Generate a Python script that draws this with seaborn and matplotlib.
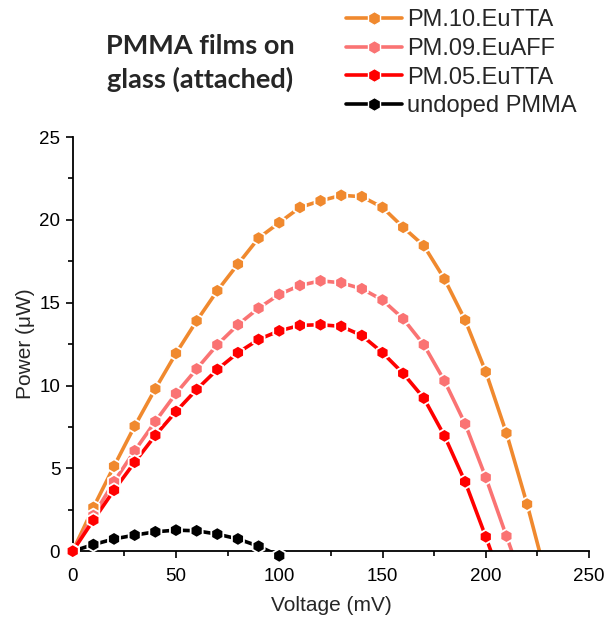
import numpy as np
import pandas as pd
import seaborn as sns
import matplotlib.pyplot as plt
from matplotlib.lines import Line2D
from matplotlib.ticker import MultipleLocator

# Power vs voltage curves (values in uW), one point every 10 mV
pm10_voltage = list(range(0, 240, 10))
pm10_power = [0, 2.64, 5.13, 7.55, 9.80, 11.94, 13.90, 15.72, 17.33, 18.90,
              19.83, 20.75, 21.15, 21.48, 21.40, 20.75, 19.55, 18.44, 16.43, 13.95,
              10.83, 7.13, 2.84, -1.90]

pm09_voltage = list(range(0, 230, 10))
pm09_power = [0, 2.15, 4.19, 6.06, 7.83, 9.52, 11.00, 12.46, 13.67, 14.67,
              15.50, 16.04, 16.32, 16.20, 15.84, 15.16, 14.03, 12.46, 10.28, 7.69,
              4.45, 0.91, -2.60]

pm05_voltage = list(range(0, 220, 10))
pm05_power = [0, 1.87, 3.68, 5.37, 6.99, 8.43, 9.76, 10.97, 11.98, 12.78,
              13.30, 13.63, 13.67, 13.57, 13.02, 11.98, 10.73, 9.24, 6.96, 4.19,
              0.87, -2.60]

undoped_voltage = list(range(0, 110, 10))
undoped_power = [0, 0.40, 0.74, 0.97, 1.17, 1.27, 1.23, 1.03, 0.74, 0.30, -0.28]

samples = ["PM.10.EuTTA", "PM.09.EuAFF", "PM.05.EuTTA", "undoped PMMA"]
colors = {"PM.10.EuTTA": "#F0892E", "PM.09.EuAFF": "#FA7373",
          "PM.05.EuTTA": "#FF0000", "undoped PMMA": "#000000"}

series = {
    "undoped PMMA": (undoped_voltage, undoped_power),
    "PM.10.EuTTA": (pm10_voltage, pm10_power),
    "PM.09.EuAFF": (pm09_voltage, pm09_power),
    "PM.05.EuTTA": (pm05_voltage, pm05_power),
}
frames = [pd.DataFrame({"voltage": v, "power": p, "sample": name})
          for name, (v, p) in series.items()]
df = pd.concat(frames, ignore_index=True)

sns.set_theme(style="ticks")
plt.rcParams["font.family"] = ["Liberation Sans", "DejaVu Sans"]

fig = plt.figure(figsize=(6.06, 6.2), dpi=100)
ax = fig.add_axes([0.120, 0.111, 0.852, 0.668])

draw_order = ["undoped PMMA", "PM.10.EuTTA", "PM.09.EuAFF", "PM.05.EuTTA"]
sns.lineplot(data=df, x="voltage", y="power", hue="sample", hue_order=draw_order,
             palette=colors, sort=False, estimator=None, linewidth=2.6,
             legend=False, ax=ax)

# markers stay visible where they sit on the axis line
visible = df[df["power"] > -0.5]
sns.scatterplot(data=visible, x="voltage", y="power", hue="sample",
                hue_order=draw_order, palette=colors, marker="h", s=100,
                edgecolor="white", linewidth=1.3, legend=False, ax=ax,
                clip_on=False, zorder=5)

ax.set_xlim(0, 250)
ax.set_ylim(0, 25)
ax.xaxis.set_major_locator(MultipleLocator(50))
ax.xaxis.set_minor_locator(MultipleLocator(25))
ax.yaxis.set_major_locator(MultipleLocator(5))
ax.yaxis.set_minor_locator(MultipleLocator(2.5))
ax.tick_params(which="both", direction="out", width=1.2, colors="black",
               labelsize=13.5)
ax.tick_params(axis="x", which="both", pad=7)
ax.tick_params(axis="y", which="both", pad=4)
ax.tick_params(which="major", length=5)
ax.tick_params(which="minor", length=3.6)
for side in ["left", "bottom"]:
    ax.spines[side].set_linewidth(1.3)
    ax.spines[side].set_color("black")
sns.despine(ax=ax)

ax.set_xlabel("Voltage (mV)", fontsize=15, labelpad=8)
ax.set_ylabel("Power (\u03bcW)", fontsize=15, labelpad=3)

fig.text(0.33, 0.899, "PMMA films on\nglass (attached)", ha="center",
         va="center", fontsize=19.5, fontweight="bold", family="Lato",
         linespacing=1.4)

handles = [Line2D([0], [0], color=colors[n], lw=2.6, marker="h", markersize=10,
                  markeredgecolor="white", markeredgewidth=1.0) for n in samples]
fig.legend(handles, samples, loc="upper left", bbox_to_anchor=(0.555, 1.0),
           frameon=False, fontsize=17, handlelength=2.4, handletextpad=0.2,
           labelspacing=0.28, borderaxespad=0)

fig.savefig("out.png", dpi=100)
